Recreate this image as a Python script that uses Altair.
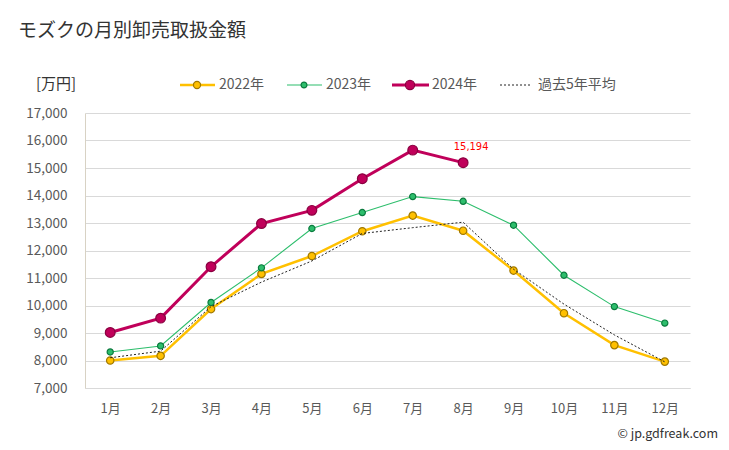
import altair as alt
import pandas as pd

months = ["1月", "2月", "3月", "4月", "5月", "6月", "7月", "8月", "9月", "10月", "11月", "12月"]
v2022 = [8000, 8170, 9870, 11150, 11800, 12700, 13270, 12720, 11270, 9720, 8560, 7960]
v2023 = [8310, 8530, 10110, 11370, 12800, 13380, 13960, 13790, 12920, 11100, 9960, 9360]
v2024 = [9020, 9540, 11410, 12980, 13460, 14610, 15650, 15194]
avg5 = [8100, 8340, 9960, 10850, 11620, 12620, 12830, 13030, 11320, 10050, 8930, 7950]
y_ticks = [7000, 8000, 9000, 10000, 11000, 12000, 13000, 14000, 15000, 16000, 17000]

FONT = "Noto Sans CJK JP"
C22, C22D = "#FFC000", "#A07800"
C23, C23D = "#2DBE6C", "#0B7A3E"
C24, C24D = "#C0005A", "#8A0040"

def frame(vals, name):
    return pd.DataFrame({"month": months[:len(vals)], "value": vals, "series": name})

df = pd.concat([frame(v2022, "2022年"), frame(v2023, "2023年"),
                frame(v2024, "2024年"), frame(avg5, "過去5年平均")])

x_enc = alt.X("month:N", sort=months, scale=alt.Scale(type="point", padding=0.5),
              axis=alt.Axis(title=None, labelAngle=0, ticks=False, grid=False,
                            domainColor="#d9d9d9", labelPadding=14,
                            labelFontSize=13, labelColor="#595959", labelFont=FONT))
y_enc = alt.Y("value:Q", scale=alt.Scale(domain=[7000, 17000], nice=False),
              axis=alt.Axis(title=None, values=y_ticks, format=",d", ticks=False,
                            labelOverlap=False, tickCount=len(y_ticks) + 5,
                            grid=True, gridColor="#d9d9d9", domainColor="#d8d2c4",
                            labelPadding=18, labelFontSize=13.5, labelColor="#595959",
                            labelFont=FONT))

base = alt.Chart(df).encode(x=x_enc, y=y_enc)

def series_layers(name, color, dark, width, size):
    d = base.transform_filter(alt.datum.series == name)
    line = d.mark_line(color=color, strokeWidth=width)
    pts = d.mark_point(filled=True, fill=color, stroke=dark, strokeWidth=1.2,
                       size=size, opacity=1)
    return [line, pts]

l22 = series_layers("2022年", C22, C22D, 2.5, 55)
l23 = series_layers("2023年", C23, C23D, 1.1, 38)
l24 = series_layers("2024年", C24, C24D, 3, 95)
avg_line = base.transform_filter(alt.datum.series == "過去5年平均").mark_line(
    color="#222222", strokeWidth=1, strokeDash=[2, 2])

label = base.transform_filter(alt.datum.series == "2024年").transform_filter(
    alt.datum.month == months[len(v2024) - 1]
).transform_calculate(txt="format(datum.value, ',')").mark_text(
    color="#FF0000", fontSize=11, font="Liberation Sans Narrow, DejaVu Sans Condensed, sans-serif",
    dx=8, dy=-16).encode(text="txt:N")

one = pd.DataFrame({"a": [0]})
OX, OY = 85, 113  # plot origin in page coords

def txt(s, px, py, size, color="#595959", align="left", font=FONT):
    return alt.Chart(one).mark_text(text=s, fontSize=size, color=color, align=align,
                                    baseline="middle", font=font).encode(
        x=alt.value(px - OX), y=alt.value(py - OY))

def leg_line(x1, x2, py, color, width, dash=None):
    kw = dict(color=color, strokeWidth=width)
    if dash:
        kw["strokeDash"] = dash
    return alt.Chart(one).mark_rule(**kw).encode(
        x=alt.value(x1 - OX), x2=alt.value(x2 - OX), y=alt.value(py - OY))

def leg_pt(px, py, color, dark, size):
    return alt.Chart(one).mark_point(filled=True, fill=color, stroke=dark, strokeWidth=1.2,
                                     size=size, opacity=1).encode(
        x=alt.value(px - OX), y=alt.value(py - OY))

LY = 85
legend = [
    leg_line(180, 215, LY, C22, 2.5), leg_pt(197, LY, C22, C22D, 50), txt("2022年", 219, LY, 14),
    leg_line(287, 322, LY, C23, 1.1), leg_pt(304, LY, C23, C23D, 35), txt("2023年", 326, LY, 14),
    leg_line(392, 429, LY, C24, 3), leg_pt(410, LY, C24, C24D, 85), txt("2024年", 432, LY, 14),
    leg_line(500, 532, LY, "#222222", 1, [2, 2]), txt("過去5年平均", 538, LY, 14),
]

decor = [
    txt("モズクの月別卸売取扱金額", 18, 31, 19, color="#333333"),
    txt("[万円]", 36, 84, 15, color="#333333"),
    txt("© jp.gdfreak.com", 718, 434, 12.5, color="#333333", align="right"),
]

chart = alt.layer(*l22, *l23, avg_line, *l24, label, *legend, *decor).properties(
    width=605, height=275,
    padding={"left": 77, "top": 105, "right": 31, "bottom": 54},
    autosize=alt.AutoSizeParams(type="none"),
    background="white",
).configure_view(stroke=None)

chart.save("out.html", embed_options={"renderer": "svg", "actions": False})
